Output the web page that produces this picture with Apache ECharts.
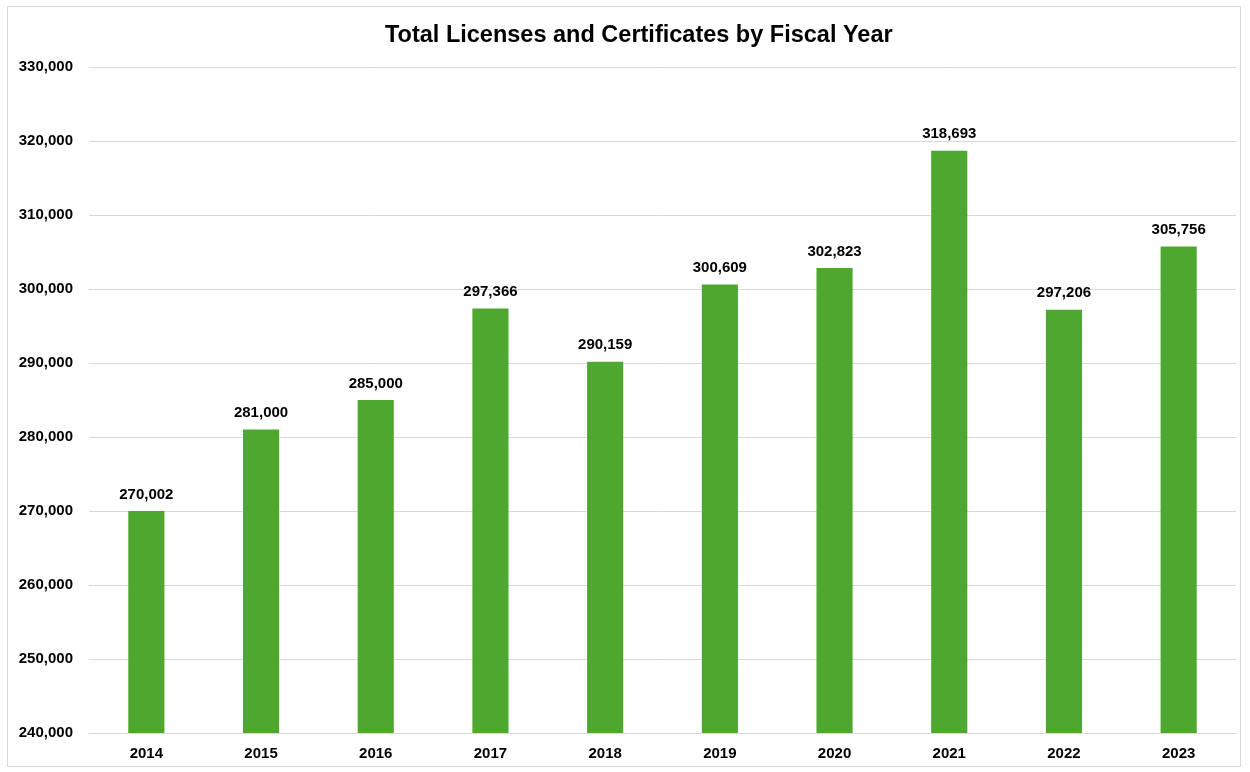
<!DOCTYPE html>
<html>
<head>
<meta charset="utf-8">
<script src="https://cdn.jsdelivr.net/npm/echarts@6/dist/echarts.min.js"></script>
<style>
html,body{margin:0;padding:0;background:#fff;}
#frame{position:absolute;left:7px;top:6px;width:1234px;height:761px;border:1px solid #d9d9d9;box-sizing:border-box;}
#c{position:absolute;left:0;top:0;width:1250px;height:772px;}
</style>
</head>
<body>
<div id="frame"></div>
<div id="c"></div>
<script>
const title = 'Total Licenses and Certificates by Fiscal Year';
const years = ['2014','2015','2016','2017','2018','2019','2020','2021','2022','2023'];
const totals = [270002, 281000, 285000, 297366, 290159, 300609, 302823, 318693, 297206, 305756];

const chart = echarts.init(document.getElementById('c'), null, {renderer:'canvas'});
const font = '"Liberation Sans", Arial, sans-serif';
chart.setOption({
  backgroundColor: 'transparent',
  animation: false,
  title: {
    text: title, left: 380, top: 19,
    textStyle: {fontFamily: font, fontSize: 23.5, fontWeight: 'bold', color: '#000'}
  },
  grid: {left: 89, right: 14, top: 67, bottom: 39},
  xAxis: {
    type: 'category', data: years,
    axisLine: {show: true, lineStyle: {color: '#d9d9d9', width: 1}},
    axisTick: {show: false},
    axisLabel: {fontFamily: font, fontSize: 15, fontWeight: 'bold', color: '#000', margin: 13}
  },
  yAxis: {
    type: 'value', min: 240000, max: 330000, interval: 10000,
    axisLine: {show: false}, axisTick: {show: false},
    splitLine: {lineStyle: {color: '#d9d9d9', width: 1}},
    axisLabel: {
      fontFamily: font, fontSize: 15, fontWeight: 'bold', color: '#000', margin: 16,
      formatter: v => v.toLocaleString('en-US')
    }
  },
  series: [{
    type: 'bar', data: totals, barWidth: '31.5%',
    itemStyle: {color: '#4ea72e'},
    label: {
      show: true, position: 'top', distance: 9,
      fontFamily: font, fontSize: 15, fontWeight: 'bold', color: '#000',
      formatter: p => p.value.toLocaleString('en-US')
    }
  }]
});
</script>
</body>
</html>
